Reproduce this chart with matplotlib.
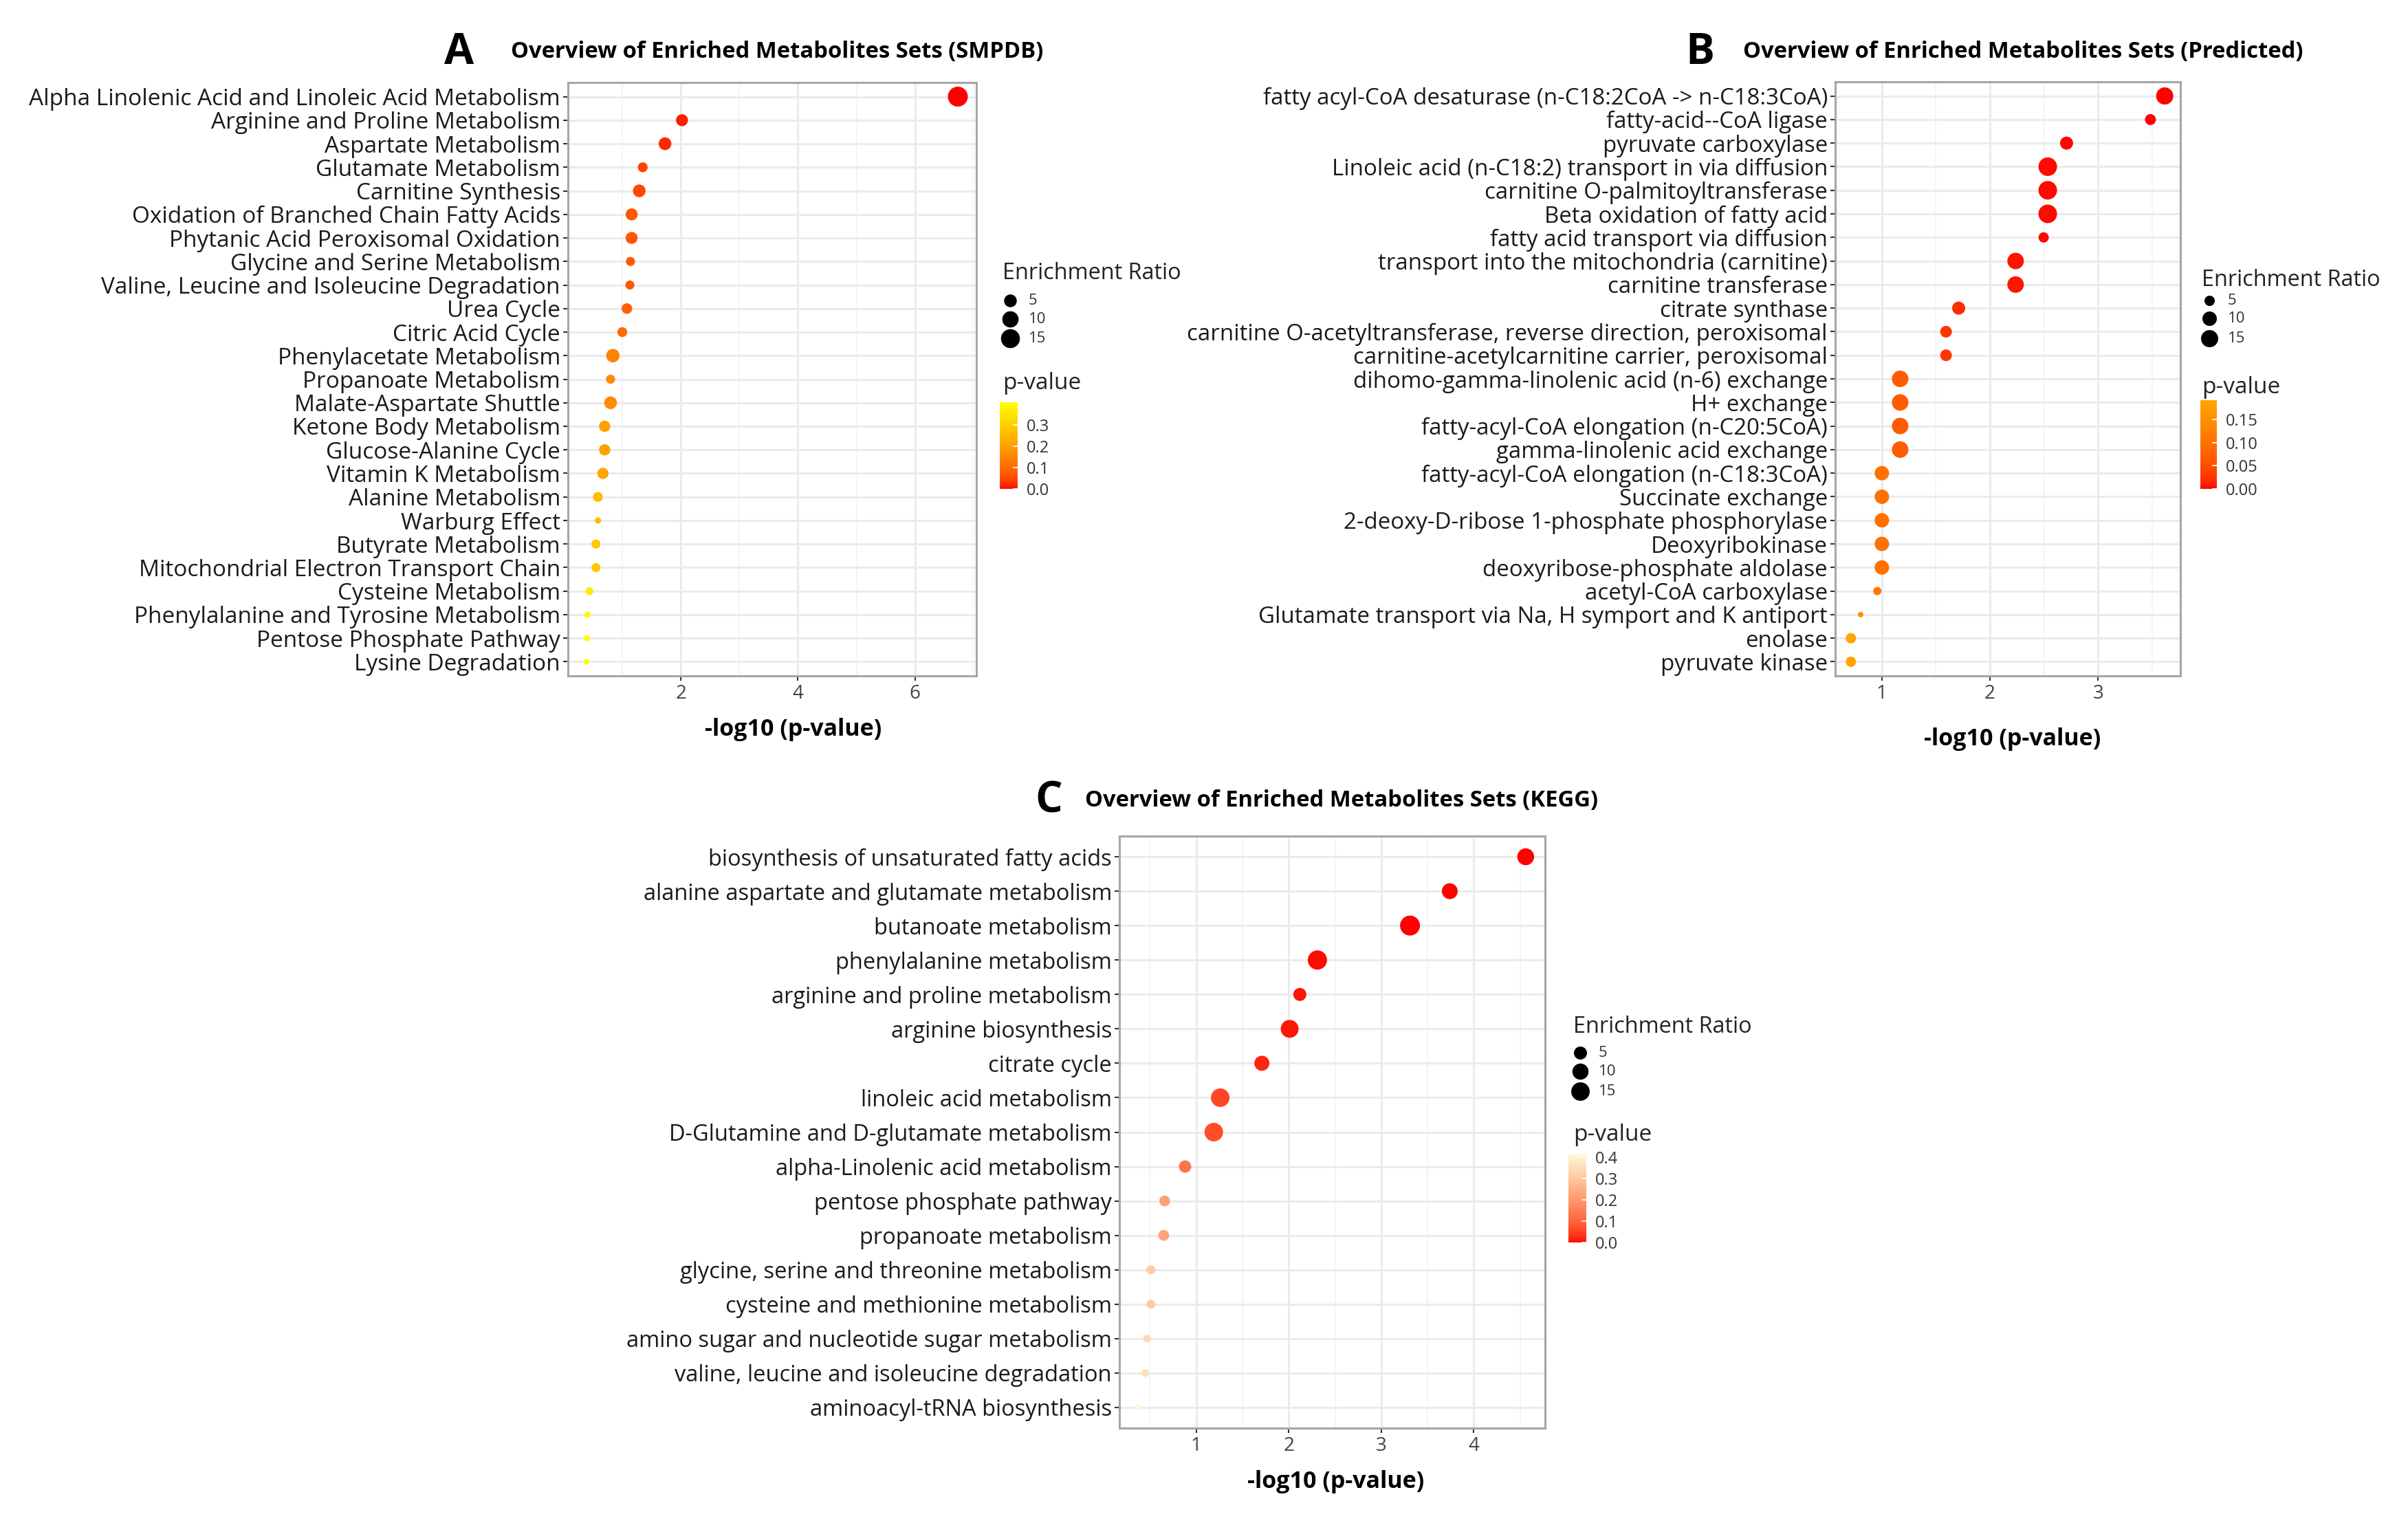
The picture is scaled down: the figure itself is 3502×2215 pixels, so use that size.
import numpy as np
import matplotlib
matplotlib.use('Agg')
import matplotlib.pyplot as plt
from matplotlib.colors import ListedColormap, Normalize, to_rgb
from matplotlib.cm import ScalarMappable

plt.rcParams['font.family'] = ['Open Sans', 'DejaVu Sans']

W, H, DPI = 3502, 2215, 100

# ── Data ─────────────────────────────────────────────────────────────────────
# Panel A: SMPDB
smpdb_sets = [
    'Alpha Linolenic Acid and Linoleic Acid Metabolism', 'Arginine and Proline Metabolism',
    'Aspartate Metabolism', 'Glutamate Metabolism', 'Carnitine Synthesis',
    'Oxidation of Branched Chain Fatty Acids', 'Phytanic Acid Peroxisomal Oxidation',
    'Glycine and Serine Metabolism', 'Valine, Leucine and Isoleucine Degradation',
    'Urea Cycle', 'Citric Acid Cycle', 'Phenylacetate Metabolism', 'Propanoate Metabolism',
    'Malate-Aspartate Shuttle', 'Ketone Body Metabolism', 'Glucose-Alanine Cycle',
    'Vitamin K Metabolism', 'Alanine Metabolism', 'Warburg Effect', 'Butyrate Metabolism',
    'Mitochondrial Electron Transport Chain', 'Cysteine Metabolism',
    'Phenylalanine and Tyrosine Metabolism', 'Pentose Phosphate Pathway', 'Lysine Degradation',
]
smpdb_logp = [6.73, 2.02, 1.73, 1.35, 1.29, 1.16, 1.16, 1.14, 1.13, 1.08, 1.00, 0.84, 0.80,
              0.80, 0.70, 0.70, 0.67, 0.585, 0.585, 0.55, 0.55, 0.44, 0.405, 0.395, 0.39]
smpdb_ratio = [17.2, 4.2, 5.0, 2.4, 5.0, 4.2, 4.2, 1.9, 1.9, 2.9, 2.4, 5.8, 1.9,
               5.0, 3.5, 3.5, 3.5, 2.4, 0.95, 1.9, 1.9, 1.3, 0.95, 0.95, 0.9]

# Panel B: predicted
pred_sets = [
    'fatty acyl-CoA desaturase (n-C18:2CoA -> n-C18:3CoA)', 'fatty-acid--CoA ligase',
    'pyruvate carboxylase', 'Linoleic acid (n-C18:2) transport in via diffusion',
    'carnitine O-palmitoyltransferase', 'Beta oxidation of fatty acid',
    'fatty acid transport via diffusion', 'transport into the mitochondria (carnitine)',
    'carnitine transferase', 'citrate synthase',
    'carnitine O-acetyltransferase, reverse direction, peroxisomal',
    'carnitine-acetylcarnitine carrier, peroxisomal',
    'dihomo-gamma-linolenic acid (n-6) exchange', 'H+ exchange',
    'fatty-acyl-CoA elongation (n-C20:5CoA)', 'gamma-linolenic acid exchange',
    'fatty-acyl-CoA elongation (n-C18:3CoA)', 'Succinate exchange',
    '2-deoxy-D-ribose 1-phosphate phosphorylase', 'Deoxyribokinase',
    'deoxyribose-phosphate aldolase', 'acetyl-CoA carboxylase',
    'Glutamate transport via Na, H symport and K antiport', 'enolase', 'pyruvate kinase',
]
pred_logp = [3.616, 3.484, 2.709, 2.535, 2.535, 2.535, 2.497, 2.238, 2.238, 1.712, 1.595,
             1.595, 1.171, 1.171, 1.171, 1.171, 1.002, 1.002, 1.002, 1.002, 1.002, 0.96,
             0.806, 0.716, 0.716]
pred_ratio = [15.0, 5.6, 8.0, 18.0, 18.0, 18.0, 5.0, 13.6, 13.6, 8.0, 6.3, 6.3, 13.6, 13.6,
              13.6, 13.6, 10.0, 10.0, 10.0, 10.0, 10.0, 3.6, 2.95, 5.0, 5.0]

# Panel C: KEGG
kegg_sets = [
    'biosynthesis of unsaturated fatty acids', 'alanine aspartate and glutamate metabolism',
    'butanoate metabolism', 'phenylalanine metabolism', 'arginine and proline metabolism',
    'arginine biosynthesis', 'citrate cycle', 'linoleic acid metabolism',
    'D-Glutamine and D-glutamate metabolism', 'alpha-Linolenic acid metabolism',
    'pentose phosphate pathway', 'propanoate metabolism',
    'glycine, serine and threonine metabolism', 'cysteine and methionine metabolism',
    'amino sugar and nucleotide sugar metabolism', 'valine, leucine and isoleucine degradation',
    'aminoacyl-tRNA biosynthesis',
]
kegg_logp = [4.56, 3.74, 3.31, 2.31, 2.12, 2.01, 1.71, 1.26, 1.19, 0.88, 0.66, 0.65,
             0.51, 0.51, 0.47, 0.45, 0.38]
kegg_ratio = [11.4, 9.4, 18.6, 16.8, 5.0, 13.6, 8.1, 15.2, 15.2, 4.2, 2.5, 2.5,
              1.2, 1.2, 0.68, 0.68, 0.5]

size_breaks = [5, 10, 15]


# ── Lab-space gradient (like ggplot's scale_colour_gradient) ─────────────────
M_XYZ = np.array([[0.4124, 0.3576, 0.1805],
                  [0.2126, 0.7152, 0.0722],
                  [0.0193, 0.1192, 0.9505]])
WHITE = M_XYZ @ np.ones(3)
EPS = 6 / 29


def rgb2lab(rgb):
    c = np.asarray(rgb, float)
    lin = np.where(c <= 0.04045, c / 12.92, ((c + 0.055) / 1.055) ** 2.4)
    xyz = M_XYZ @ lin / WHITE
    f = np.where(xyz > EPS ** 3, np.cbrt(xyz), xyz / (3 * EPS ** 2) + 4 / 29)
    return np.array([116 * f[1] - 16, 500 * (f[0] - f[1]), 200 * (f[1] - f[2])])


def lab2rgb(lab):
    fy = (lab[:, 0] + 16) / 116
    f = np.stack([fy + lab[:, 1] / 500, fy, fy - lab[:, 2] / 200], -1)
    xyz = np.where(f > EPS, f ** 3, 3 * EPS ** 2 * (f - 4 / 29)) * WHITE
    lin = np.clip(xyz @ np.linalg.inv(M_XYZ).T, 0, 1)
    return np.clip(np.where(lin <= 0.0031308, 12.92 * lin, 1.055 * lin ** (1 / 2.4) - 0.055), 0, 1)


def lab_cmap(low, high, n=256):
    a, b = rgb2lab(to_rgb(low)), rgb2lab(to_rgb(high))
    t = np.linspace(0, 1, n)[:, None]
    return ListedColormap(lab2rgb(a + (b - a) * t))


def dot_px(v, vmin, vmax, d0, d1):
    t = np.sqrt(np.clip((np.asarray(v, float) - vmin) / (vmax - vmin), 0, 1))
    return d0 + (d1 - d0) * t


def area(d):
    return (np.asarray(d) * 72 / DPI) ** 2


fig = plt.figure(figsize=(W / DPI, H / DPI), dpi=DPI)
fig.patch.set_facecolor('white')
# overlay in pixel coordinates for titles and legends
ov = fig.add_axes([0, 0, 1, 1], zorder=5)
ov.set_xlim(0, W)
ov.set_ylim(H, 0)
ov.axis('off')


def fr(x0, y0, x1, y1):
    return [x0 / W, 1 - y1 / H, (x1 - x0) / W, (y1 - y0) / H]


def panel(sets, logp, ratio, low, high, lay):
    n = len(sets)
    logp = np.asarray(logp)
    pval = 10 ** -logp
    cmap = lab_cmap(low, high)
    norm = Normalize(pval.min(), pval.max())
    rmin, rmax = min(ratio), max(ratio)
    d0, d1 = lay['dots']

    ax = fig.add_axes(fr(*lay['ax']))
    y = np.arange(n)[::-1]
    ax.scatter(logp, y, s=area(dot_px(ratio, rmin, rmax, d0, d1)),
               c=cmap(norm(pval)), linewidths=0, zorder=3)
    span = logp.max() - logp.min()
    ax.set_xlim(logp.min() - 0.05 * span, logp.max() + 0.05 * span)
    ax.set_ylim(-0.6, n - 0.4)
    ax.set_yticks(y)
    ax.set_yticklabels(sets, fontsize=lay['yfs'], color='#1A1A1A')
    ax.set_xticks(lay['xt'])
    ax.set_xticks(lay['xminor'], minor=True)
    ax.tick_params(axis='x', which='major', labelsize=20, labelcolor='#444444', length=5,
                   width=1.5, color='#333333', pad=4)
    ax.tick_params(axis='y', length=5, width=1.5, color='#333333', pad=3)
    ax.tick_params(which='minor', length=0)
    ax.grid(which='major', color='#EBEBEB', linewidth=2.2, zorder=0)
    ax.grid(which='minor', axis='x', color='#F2F2F2', linewidth=1.2, zorder=0)
    ax.set_axisbelow(True)
    for sp in ax.spines.values():
        sp.set_color('#A6A6A6')
        sp.set_linewidth(2.2)

    lx, ly = lay['letter']
    ov.text(lx, ly, lay['tag'], fontsize=45, fontweight='bold', ha='center', va='center')
    tx, ty = lay['title']
    ov.text(tx, ty, lay['name'], fontsize=23.6, fontweight='bold', ha='left', va='center')
    xx, xy = lay['xlab']
    ov.text(xx, xy, '-log10 (p-value)', fontsize=24.5, fontweight='bold', ha='center', va='center')

    # size legend
    gx, gy = lay['leg']
    ov.text(gx, gy, 'Enrichment Ratio', fontsize=23.4, color='#222222', ha='left', va='center')
    for br, yy in zip(size_breaks, lay['dot_y']):
        ov.scatter([lay['dot_x']], [yy], s=area(dot_px(br, rmin, rmax, d0, d1)),
                   color='black', linewidths=0)
        ov.text(lay['dot_x'] + 27, yy, str(br), fontsize=16, color='#333333',
                ha='left', va='center')

    # colour legend
    px, py = lay['ptitle']
    ov.text(px, py, 'p-value', fontsize=24, color='#222222', ha='left', va='center')
    cax = fig.add_axes(fr(*lay['cbar']))
    cb = fig.colorbar(ScalarMappable(norm=norm, cmap=cmap), cax=cax)
    cb.outline.set_visible(False)
    cb.set_ticks(lay['cticks'])
    cb.set_ticklabels([lay['cfmt'].format(t) for t in lay['cticks']])
    cax.tick_params(labelsize=17, labelcolor='#333333', length=5, width=1.2,
                    color='white', direction='in', pad=9)
    return ax


panel(smpdb_sets, smpdb_logp, smpdb_ratio, 'red', 'yellow', dict(
    ax=(826, 120, 1420, 983), yfs=24, xt=[2, 4, 6], xminor=[1, 3, 5, 7], dots=(8, 29),
    tag='A', letter=(668, 76), title=(743, 75),
    name='Overview of Enriched Metabolites Sets (SMPDB)', xlab=(1154, 1061),
    leg=(1458, 397), dot_x=1469, dot_y=[437, 464, 492], ptitle=(1458, 557),
    cbar=(1454, 585, 1480, 711), cticks=[0.0, 0.1, 0.2, 0.3], cfmt='{:.1f}'))

panel(pred_sets, pred_logp, pred_ratio, 'red', 'orange', dict(
    ax=(2669, 119, 3171, 983), yfs=23.8, xt=[1, 2, 3], xminor=[1.5, 2.5, 3.5], dots=(8, 27),
    tag='B', letter=(2472, 76), title=(2535, 75),
    name='Overview of Enriched Metabolites Sets (Predicted)', xlab=(2927, 1075),
    leg=(3202, 407), dot_x=3213, dot_y=[437, 463, 492], ptitle=(3202, 563),
    cbar=(3200, 582, 3224, 711), cticks=[0.0, 0.05, 0.10, 0.15], cfmt='{:.2f}'))

panel(kegg_sets, kegg_logp, kegg_ratio, 'red', '#FFF8DC', dict(
    ax=(1628, 1216, 2247, 2077), yfs=23.5, xt=[1, 2, 3, 4], xminor=[0.5, 1.5, 2.5, 3.5, 4.5],
    dots=(9, 29), tag='C', letter=(1525, 1165), title=(1578, 1164),
    name='Overview of Enriched Metabolites Sets (KEGG)', xlab=(1943, 2155),
    leg=(2288, 1493), dot_x=2298, dot_y=[1531, 1558, 1587], ptitle=(2288, 1650),
    cbar=(2281, 1678, 2307, 1807), cticks=[0.0, 0.1, 0.2, 0.3, 0.4], cfmt='{:.1f}'))

fig.savefig('out.png', dpi=DPI, facecolor='white')
